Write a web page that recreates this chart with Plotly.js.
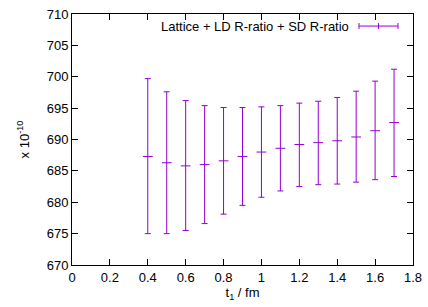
<!DOCTYPE html>
<html><head><meta charset="utf-8">
<script src="https://cdn.plot.ly/plotly-3.0.1.min.js"></script>
<style>html,body{margin:0;padding:0;background:#fff}#plot{width:428px;height:307px}</style>
</head><body><div id="plot"></div>
<script>
var t1 = [0.4,0.5,0.6,0.7,0.8,0.9,1.0,1.1,1.2,1.3,1.4,1.5,1.6,1.7];
var center = [687.3,686.3,685.8,686.0,686.6,687.3,688.0,688.6,689.2,689.5,689.8,690.4,691.4,692.7];
var upper = [699.7,697.6,696.2,695.4,695.1,695.1,695.2,695.4,695.8,696.1,696.7,697.7,699.3,701.2];
var lower = [675.0,675.0,675.5,676.6,678.1,679.5,680.8,681.8,682.5,682.8,682.9,683.2,683.6,684.1];
var seriesName = 'Lattice + LD R-ratio + SD R-ratio';
var xTicks = [0,0.2,0.4,0.6,0.8,1,1.2,1.4,1.6,1.8];
var xTickText = ['0','0.2','0.4','0.6','0.8','1','1.2','1.4','1.6','1.8'];
var yTicks = [670,675,680,685,690,695,700,705,710];

var col = '#9400D3';
var errPlus = upper.map(function(u,i){return u-center[i];});
var errMinus = lower.map(function(l,i){return center[i]-l;});

var trace = {
  x: t1, y: center, type: 'scatter', mode: 'markers', name: seriesName,
  marker: {symbol: 'line-ew', size: 7, color: col, line: {color: col, width: 1}},
  error_y: {type: 'data', symmetric: false, array: errPlus, arrayminus: errMinus,
            color: col, thickness: 1, width: 3},
  showlegend: false
};

var font = {family: 'Liberation Sans, Arial, sans-serif', size: 13, color: '#000'};
var layout = {
  width: 428, height: 307,
  margin: {l: 72, r: 15, t: 14, b: 42},
  paper_bgcolor: '#fff', plot_bgcolor: '#fff',
  font: font,
  showlegend: false,
  xaxis: {range: [0,1.8], tickvals: xTicks, ticktext: xTickText, ticks: 'inside', ticklen: 6,
          tickcolor: '#000', showline: true, linecolor: '#000', linewidth: 1, mirror: 'ticks',
          showgrid: false, zeroline: false, tickfont: font,
          title: {text: 't<sub>1</sub> / fm', font: font, standoff: 4}},
  yaxis: {range: [670,710], tickvals: yTicks, ticks: 'inside', ticklen: 6,
          tickcolor: '#000', showline: true, linecolor: '#000', linewidth: 1, mirror: 'ticks',
          showgrid: false, zeroline: false, tickfont: font,
          title: {text: 'x 10<sup>-10</sup>', font: font, standoff: 14}},
  annotations: [{xref: 'paper', yref: 'paper', x: 0.818, y: 0.952, xanchor: 'right', yanchor: 'middle',
                 text: seriesName, showarrow: false, font: font}],
  shapes: [
    {type:'line', xref:'paper', yref:'paper', x0:0.8416, x1:0.956, y0:0.952, y1:0.952, line:{color:col,width:1}},
    {type:'line', xref:'paper', yref:'paper', x0:0.8416, x1:0.8416, y0:0.94, y1:0.964, line:{color:col,width:1}},
    {type:'line', xref:'paper', yref:'paper', x0:0.956, x1:0.956, y0:0.94, y1:0.964, line:{color:col,width:1}},
    {type:'line', xref:'paper', yref:'paper', x0:0.899, x1:0.899, y0:0.94, y1:0.964, line:{color:col,width:1}}
  ]
};
Plotly.newPlot('plot', [trace], layout, {staticPlot: true, displayModeBar: false});
</script></body></html>
